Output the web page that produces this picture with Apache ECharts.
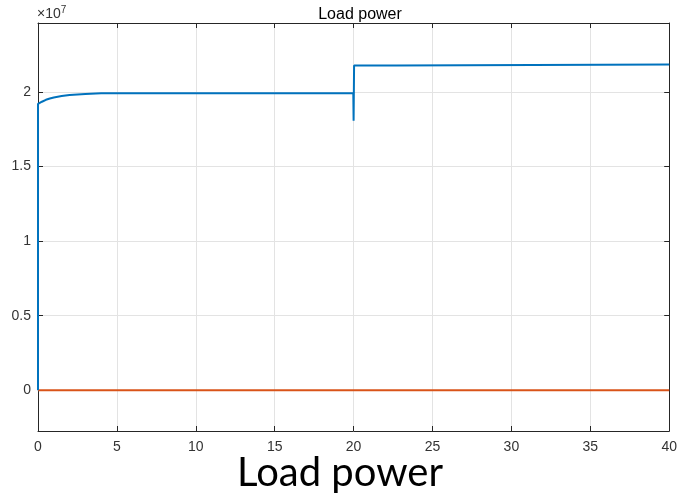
<!DOCTYPE html>
<html><head><meta charset="utf-8">
<script src="https://cdn.jsdelivr.net/npm/echarts@6/dist/echarts.min.js"></script>
<style>html,body{margin:0;padding:0;background:#fff}#c{width:680px;height:501px}</style>
</head><body><div id="c"></div>
<script>
// values in units of 1e7 (axis shows ×10^7)
var blueTime  = [0, 0.001, 0.25, 0.5, 0.75, 1.0, 1.5, 2.0, 3.0, 4.0, 19.98, 20.0, 20.0, 20.03, 22.7, 22.7, 40];
var blueValue = [0, 1.92, 1.935, 1.948, 1.957, 1.964, 1.973, 1.980, 1.987, 1.992, 1.992, 1.992, 1.807, 2.178, 2.178, 2.185, 2.185];
var redTime  = [0, 40];
var redValue = [0, 0];
var yTicks = [0, 0.5, 1, 1.5, 2];
var xTicks = [0, 5, 10, 15, 20, 25, 30, 35, 40];
var titleText = 'Load power';
var captionText = 'Load power';

function pairs(t, v){ return t.map(function(x,i){ return [x, v[i]]; }); }

var chart = echarts.init(document.getElementById('c'));
var axisCol = '#262626';
var labCol = '#333333';
var font = 'Liberation Sans, Arial, sans-serif';
var yMin = -0.273, yMax = 2.463;
chart.setOption({
  animation:false,
  title:{ text:titleText, left:355, top:2, textAlign:'center',
    textStyle:{ fontFamily:font, fontSize:16, fontWeight:'normal', color:'#000' } },
  grid:{ left:38, top:23, right:8, bottom:70 },
  xAxis:[{ type:'value', min:0, max:40, interval:5, position:'bottom',
      axisLine:{ onZero:false, lineStyle:{ color:axisCol, width:1 } },
      axisTick:{ inside:true, length:5, lineStyle:{ color:axisCol } },
      axisLabel:{ fontFamily:font, fontSize:14, color:labCol, margin:9,
        customValues: xTicks },
      splitLine:{ show:true, lineStyle:{ color:'#e3e3e3', width:1 } } },
    { type:'value', min:0, max:40, interval:5, position:'top',
      axisLine:{ onZero:false, lineStyle:{ color:axisCol, width:1 } },
      axisTick:{ inside:true, length:5, lineStyle:{ color:axisCol } },
      axisLabel:{ show:false }, splitLine:{ show:false } }],
  yAxis:[{ type:'value', min:yMin, max:yMax, position:'left',
      axisLine:{ show:true, onZero:false, lineStyle:{ color:axisCol, width:1 } },
      axisTick:{ show:true, inside:true, length:5, lineStyle:{ color:axisCol }, customValues:yTicks },
      axisLabel:{ fontFamily:font, fontSize:14, color:labCol, margin:7, customValues:yTicks,
        formatter:function(v){ return String(v); } },
      splitLine:{ show:true, lineStyle:{ color:'#e3e3e3', width:1 } } },
    { type:'value', min:yMin, max:yMax, position:'right',
      axisLine:{ show:true, onZero:false, lineStyle:{ color:axisCol, width:1 } },
      axisTick:{ show:true, inside:true, length:5, lineStyle:{ color:axisCol }, customValues:yTicks },
      axisLabel:{ show:false, customValues:yTicks }, splitLine:{ show:false } }],
  graphic:[
    { type:'text', left:37, top:5, style:{ text:'×10{s|7}', fontFamily:font, fontSize:14, fill:labCol,
        rich:{ s:{ fontFamily:font, fontSize:10, fill:labCol, verticalAlign:'top', padding:[0,0,8,0] } } } },
    { type:'text', left:'center', top:453, style:{ text:captionText, fontFamily:'Lato, Open Sans, sans-serif', fontSize:40, fill:'#000' } }
  ],
  series:[
    { type:'line', data:pairs(blueTime, blueValue), showSymbol:false, lineStyle:{ color:'#0072BD', width:2 }, z:3 },
    { type:'line', data:pairs(redTime, redValue), showSymbol:false, lineStyle:{ color:'#D95319', width:2 }, z:2 }
  ]
});
</script></body></html>
